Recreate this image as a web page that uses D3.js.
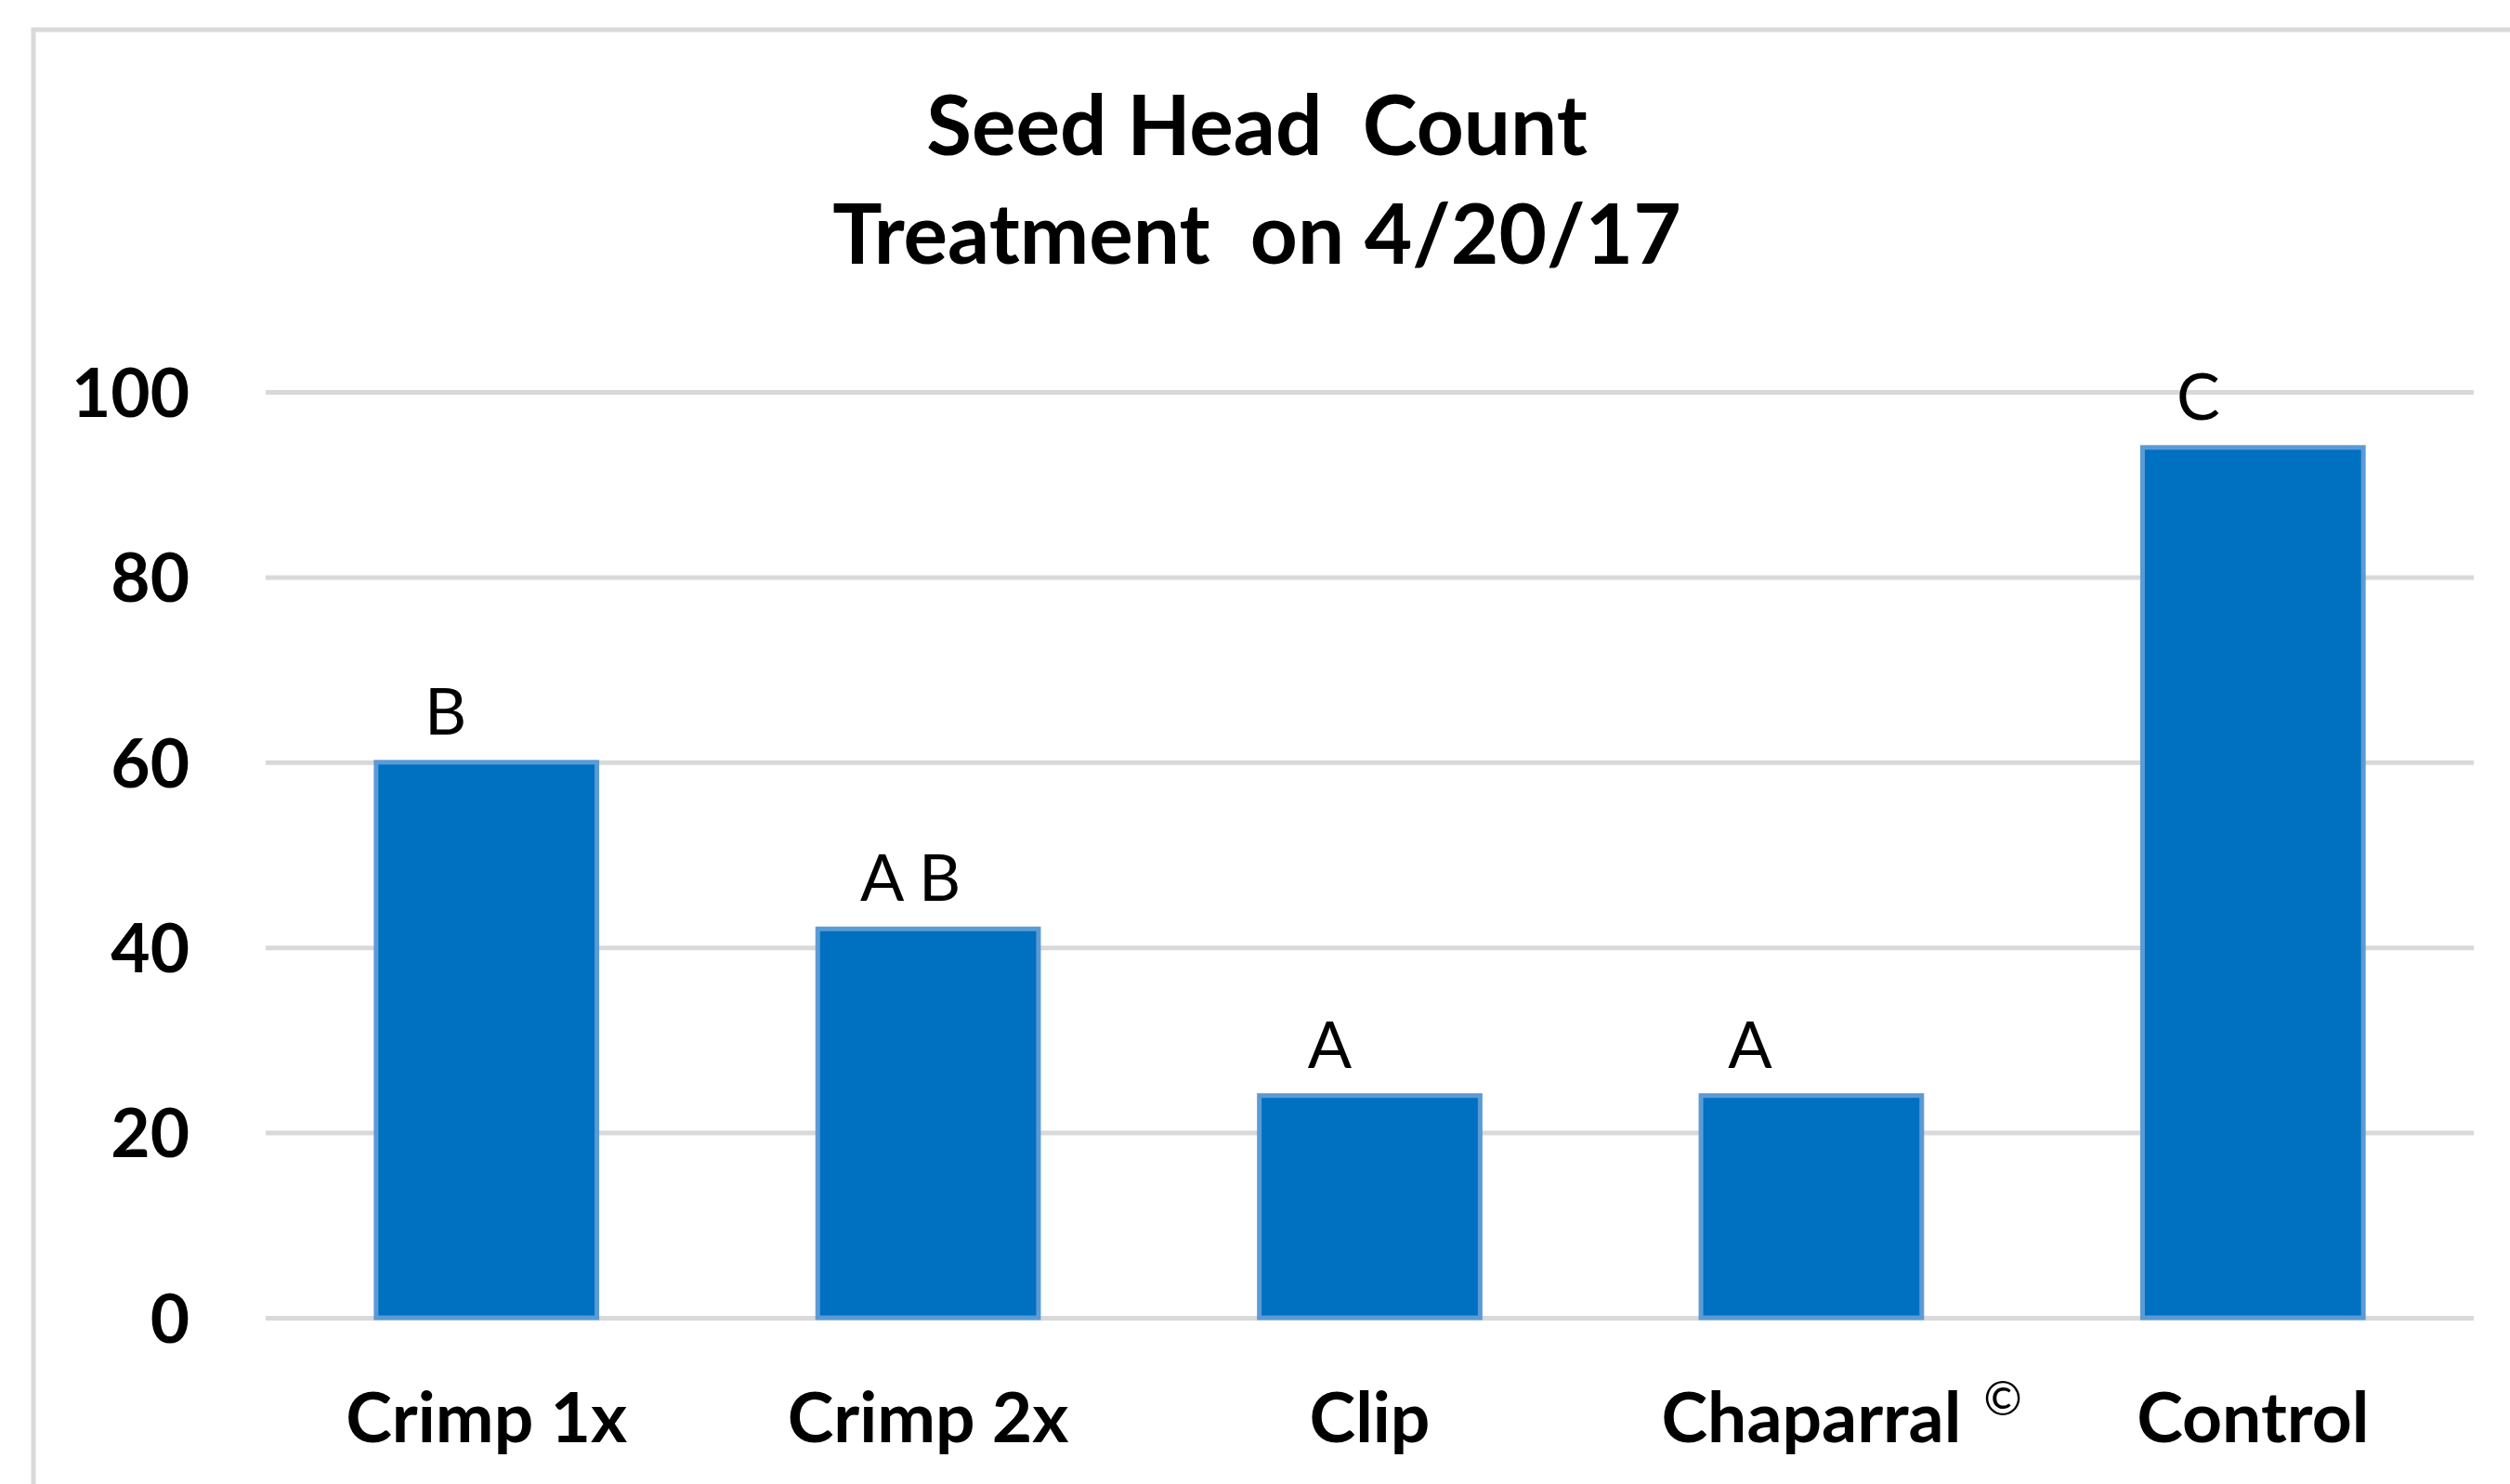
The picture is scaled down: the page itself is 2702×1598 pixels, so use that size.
<!DOCTYPE html>
<html>
<head>
<meta charset="utf-8">
<script src="https://cdn.jsdelivr.net/npm/d3@7"></script>
<style>
  body { margin: 0; background: #ffffff; }
  svg { display: block; }
</style>
</head>
<body>
<div id="chart"></div>
<script>
//
//values
//
var categories = ["Crimp 1x", "Crimp 2x", "Clip", "Chaparral", "Control"];
var seedHeads = [60, 42, 24, 24, 94];
var letters = ["B", "A B", "A", "A", "C"];
var yTicks = [0, 20, 40, 60, 80, 100];
var titleLines = ["Seed Head  Count", "Treatment  on 4/20/17"];

//layout of the page
var width = 2702, height = 1598;
var plotLeft = 286, plotRight = 2663, plotTop = 422, plotBottom = 1419;
var letterShift = [-44, -19, -43, -66, -59];   //the letters were placed a bit left of each bar centre
var font = "Lato, 'Open Sans', sans-serif";

var svg = d3.select("#chart").append("svg")
  .attr("width", width)
  .attr("height", height);

svg.append("rect")
  .attr("width", width).attr("height", height)
  .attr("fill", "#ffffff");

//chart frame, only top and left edges are inside the picture
svg.append("rect")
  .attr("x", 36).attr("y", 32)
  .attr("width", width).attr("height", height)
  .attr("fill", "none")
  .attr("stroke", "#d9d9d9")
  .attr("stroke-width", 5);

var x = d3.scaleBand()
  .domain(categories)
  .range([plotLeft, plotRight])
  .paddingInner(0.5)
  .paddingOuter(0.25);

var y = d3.scaleLinear()
  .domain([0, 100])
  .range([plotBottom, plotTop]);

//title, two lines
svg.selectAll(".title")
  .data(titleLines)
  .enter().append("text")
  .attr("class", "title")
  .attr("x", 1353)
  .attr("y", function(d, i) { return 167 + 117 * i; })
  .attr("text-anchor", "middle")
  .attr("font-family", font)
  .attr("font-weight", "bold")
  .attr("font-size", 89)
  .attr("fill", "#000000")
  .style("white-space", "pre")
  .text(function(d) { return d; });

//y axis with gridlines
var yAxis = svg.append("g")
  .attr("transform", "translate(" + plotLeft + ",0)")
  .call(d3.axisLeft(y).tickValues(yTicks).tickSize(-(plotRight - plotLeft)).tickPadding(82));

yAxis.select(".domain").remove();
yAxis.selectAll(".tick line")
  .attr("stroke", "#d9d9d9")
  .attr("stroke-width", 5);
yAxis.selectAll(".tick text")
  .attr("dy", "0.36em")
  .attr("font-family", font)
  .attr("font-weight", "bold")
  .attr("font-size", 73)
  .attr("fill", "#000000");

//bars
svg.selectAll(".bar")
  .data(seedHeads)
  .enter().append("rect")
  .attr("class", "bar")
  .attr("x", function(d, i) { return x(categories[i]); })
  .attr("y", function(d) { return y(d); })
  .attr("width", x.bandwidth())
  .attr("height", function(d) { return plotBottom - y(d); })
  .attr("fill", "#0070c0")
  .attr("stroke", "#5b9bd5")
  .attr("stroke-width", 5);

//significance letters above the bars
svg.selectAll(".letter")
  .data(letters)
  .enter().append("text")
  .attr("class", "letter")
  .attr("x", function(d, i) { return x(categories[i]) + x.bandwidth() / 2 + letterShift[i]; })
  .attr("y", function(d, i) { return y(seedHeads[i]) - 30; })
  .attr("text-anchor", "middle")
  .attr("font-family", font)
  .attr("font-size", 70)
  .attr("fill", "#000000")
  .text(function(d) { return d; });

//x axis, labels only
var xAxis = svg.append("g")
  .attr("transform", "translate(0," + plotBottom + ")")
  .call(d3.axisBottom(x).tickSize(0));

xAxis.select(".domain").remove();
xAxis.selectAll(".tick text")
  .attr("y", 134)
  .attr("dy", null)
  .attr("font-family", font)
  .attr("font-weight", "bold")
  .attr("font-size", 75)
  .attr("fill", "#000000");

//the copyright mark after Chaparral
var chapText = xAxis.selectAll(".tick text").filter(function(d) { return d == "Chaparral"; });
var chapEnd = x("Chaparral") + x.bandwidth() / 2 + chapText.node().getComputedTextLength() / 2;

svg.append("text")
  .attr("x", chapEnd + 24)
  .attr("y", plotBottom + 105)
  .attr("font-family", font)
  .attr("font-size", 50)
  .attr("fill", "#000000")
  .text("\u00a9");
</script>
</body>
</html>
